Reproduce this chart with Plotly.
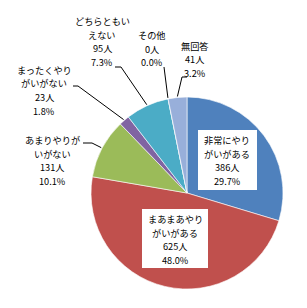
import math
import plotly.graph_objects as go

categories = ["非常にやりがいがある", "まあまあやりがいがある", "あまりやりがいがない",
              "まったくやりがいがない", "どちらともいえない", "その他", "無回答"]
label_lines = [["非常にやり", "がいがある"], ["まあまあやり", "がいがある"],
               ["あまりやりが", "いがない"], ["まったくやり", "がいがない"],
               ["どちらともい", "えない"], ["その他"], ["無回答"]]
counts = [386, 625, 131, 23, 95, 0, 41]
percents = ["29.7%", "48.0%", "10.1%", "1.8%", "7.3%", "0.0%", "3.2%"]
colors = ["#4F81BD", "#C0504D", "#9BBB59", "#8064A2", "#4BACC6", "#F79646", "#98AFDA"]

W, H = 307, 308
CX, CY, R = 187, 193, 96

def px(x):
    return x / W

def py(y):
    return 1 - y / H

fig = go.Figure(go.Pie(
    labels=categories, values=counts, sort=False, direction="clockwise", rotation=0,
    marker=dict(colors=colors, line=dict(color="white", width=0.6)),
    textinfo="none", hoverinfo="label+value+percent", showlegend=False,
    domain=dict(x=[px(CX - R), px(CX + R)], y=[py(CY + R), py(CY - R)]),
))

# label placement: center x, first-line y, line step, optional white box, leader anchors
placement = {
    0: dict(x=227, y0=140, step=13.5, box=(198, 130, 257, 190)),
    1: dict(x=175, y0=219, step=13.5, box=(142, 209, 208, 268)),
    2: dict(x=52, y0=140, step=13.5, lead=[(83, 143), (92, 143)]),
    3: dict(x=44, y0=70, step=13.5, lead=[(73, 86), (78, 86)]),
    4: dict(x=102, y0=21, step=13.6, lead=[(115, 67), (121, 67)]),
    5: dict(x=152, y0=35, step=13.6, lead=[(164, 67)]),
    6: dict(x=195, y0=46, step=13.5, lead=[(187, 77), (182, 77)]),
}

total = sum(counts)
cum = 0
for i, v in enumerate(counts):
    mid = (cum + v / 2) / total * 2 * math.pi
    cum += v
    p = placement[i]
    lines = label_lines[i] + [f"{v}人", percents[i]]
    if "box" in p:
        x0, y0, x1, y1 = p["box"]
        fig.add_shape(type="rect", xref="paper", yref="paper",
                      x0=px(x0), x1=px(x1), y0=py(y1), y1=py(y0),
                      fillcolor="white", line=dict(width=0), layer="above")
    else:
        ex = CX + (R + 1) * math.sin(mid)
        ey = CY - (R + 1) * math.cos(mid)
        pts = p["lead"] + [(ex, ey)]
        path = "M " + " L ".join(f"{px(a)},{py(b)}" for a, b in pts)
        fig.add_shape(type="path", path=path, xref="paper", yref="paper",
                      line=dict(color="#000", width=1))
    for k, t in enumerate(lines):
        fig.add_annotation(x=px(p["x"]), y=py(p["y0"] + k * p["step"]),
                           xref="paper", yref="paper", text=t, showarrow=False,
                           xanchor="center", yanchor="middle", borderpad=0,
                           font=dict(family="Noto Sans CJK JP", size=9.2, color="#000"))

fig.update_layout(width=W, height=H, margin=dict(l=0, r=0, t=0, b=0),
                  paper_bgcolor="white", plot_bgcolor="white")
fig.write_html("out.html")
